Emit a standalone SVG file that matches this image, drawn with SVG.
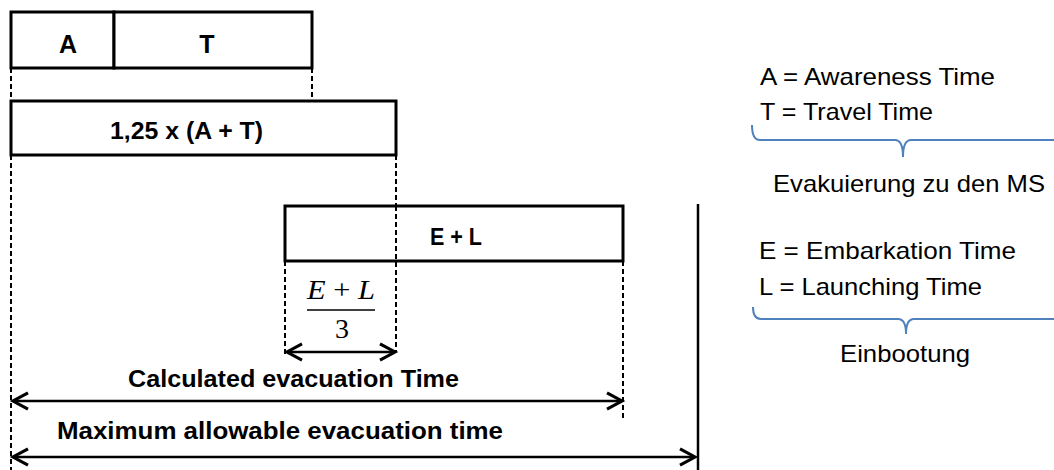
<svg xmlns="http://www.w3.org/2000/svg" width="1054" height="470" viewBox="0 0 1054 470">
<style>
.box{fill:#fff;stroke:#000;stroke-width:3}
.dash{stroke:#000;stroke-width:2;stroke-dasharray:5,3;fill:none}
.arr{stroke:#000;stroke-width:2.5;fill:none}
.b{font-family:"Liberation Sans",Arial,sans-serif;font-weight:bold;fill:#000}
.r{font-family:"Liberation Sans",Arial,sans-serif;fill:#000;font-size:24px}
.m{font-family:"Liberation Serif","Times New Roman",serif;fill:#000;font-size:28px}
.brace{stroke:#4f81bd;stroke-width:2;fill:none}
</style>
<defs>
<marker id="ah" markerUnits="userSpaceOnUse" markerWidth="20" markerHeight="20" refX="0" refY="0" viewBox="-14 -8 16 16" orient="auto-start-reverse" overflow="visible">
<path d="M-12,-6.5 L0,0 L-12,6.5" fill="none" stroke="#000" stroke-width="2.5"/>
</marker>
</defs>
<g id="connectors">
<line class="dash" x1="11" y1="68" x2="11" y2="101"/>
<line class="dash" x1="11" y1="155" x2="11" y2="470"/>
<line class="dash" x1="312" y1="68" x2="312" y2="101"/>
<line class="dash" x1="396" y1="155" x2="396" y2="206"/>
<line class="dash" x1="285" y1="261" x2="285" y2="354"/>
<line class="dash" x1="623" y1="261" x2="623" y2="420"/>
<line x1="698" y1="204" x2="698" y2="470" stroke="#000" stroke-width="2.5"/>
<line class="arr" x1="287" y1="352" x2="395" y2="352" marker-start="url(#ah)" marker-end="url(#ah)"/>
<line class="arr" x1="13" y1="401" x2="622" y2="401" marker-start="url(#ah)" marker-end="url(#ah)"/>
<line class="arr" x1="13" y1="457" x2="695" y2="457" marker-start="url(#ah)" marker-end="url(#ah)"/>
</g>
<g id="node-A">
<rect class="box" x="11" y="12" width="103" height="56"/>
<text class="b" x="68" y="53" font-size="25" text-anchor="middle">A</text>
</g>
<g id="node-T">
<rect class="box" x="114" y="12" width="198" height="56"/>
<text class="b" x="207" y="53" font-size="25" text-anchor="middle">T</text>
</g>
<g id="node-125">
<rect class="box" x="11" y="101" width="385" height="54"/>
<text class="b" x="110" y="139" font-size="24" textLength="153" lengthAdjust="spacingAndGlyphs">1,25 x (A + T)</text>
</g>
<g id="node-EL">
<rect class="box" x="285" y="206" width="338" height="55"/>
<text class="b" x="430" y="245" font-size="24" textLength="52" lengthAdjust="spacingAndGlyphs">E + L</text>
<line class="dash" x1="396" y1="206" x2="396" y2="352"/>
</g>
<g id="fraction">
<text class="m" x="307" y="299" textLength="68" lengthAdjust="spacingAndGlyphs"><tspan font-style="italic">E</tspan> + <tspan font-style="italic">L</tspan></text>
<line x1="307" y1="310" x2="375" y2="310" stroke="#000" stroke-width="1.5"/>
<text class="m" x="342" y="338" text-anchor="middle">3</text>
</g>
<g id="labels">
<text class="b" x="128" y="387" font-size="24" textLength="331" lengthAdjust="spacingAndGlyphs">Calculated evacuation Time</text>
<text class="b" x="57" y="439" font-size="24" textLength="446" lengthAdjust="spacingAndGlyphs">Maximum allowable evacuation time</text>
</g>
<g id="legend-AT">
<text class="r" x="760" y="85" textLength="235" lengthAdjust="spacingAndGlyphs">A = Awareness Time</text>
<text class="r" x="760" y="120" textLength="173" lengthAdjust="spacingAndGlyphs">T = Travel Time</text>
<path class="brace" d="M752,125 Q752,140 760,140 H895 Q903,140 903,157 Q903,140 911,140 H1054"/>
<text class="r" x="773" y="192" textLength="272" lengthAdjust="spacingAndGlyphs">Evakuierung zu den MS</text>
</g>
<g id="legend-EL">
<text class="r" x="759" y="259" textLength="257" lengthAdjust="spacingAndGlyphs">E = Embarkation Time</text>
<text class="r" x="759" y="295" textLength="223" lengthAdjust="spacingAndGlyphs">L = Launching Time</text>
<path class="brace" d="M753,307 Q753,319 761,319 H898 Q906,319 906,334 Q906,319 914,319 H1054"/>
<text class="r" x="840" y="362" textLength="130" lengthAdjust="spacingAndGlyphs">Einbootung</text>
</g>
</svg>
